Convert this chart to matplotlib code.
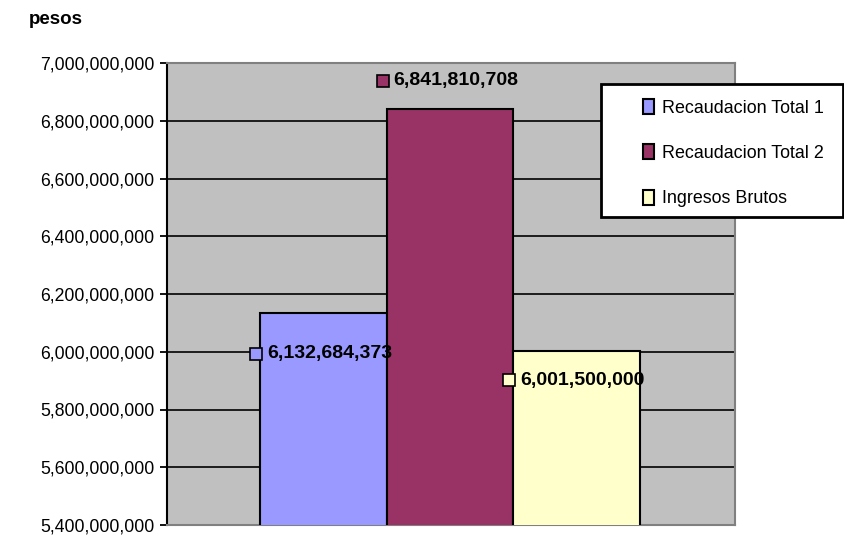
import matplotlib
matplotlib.use('Agg')
import matplotlib.pyplot as plt
from matplotlib.patches import Rectangle
from matplotlib.ticker import FuncFormatter, MultipleLocator

# Datos
series = ['Recaudacion Total 1', 'Recaudacion Total 2', 'Ingresos Brutos']
valores = [6132684373, 6841810708, 6001500000]
colores = ['#9999FF', '#993366', '#FFFFCC']
posiciones = [-1, 0, 1]

# desplazamiento vertical de cada etiqueta (puntos)
offs_etiqueta = [-29, 20, -21]

plt.rcParams['font.family'] = ['Liberation Sans', 'DejaVu Sans']

fig = plt.figure(figsize=(8.44, 5.37), dpi=100, facecolor='white')
ax = fig.add_axes([167 / 844, 12 / 537, 568 / 844, 462 / 537])
ax.set_facecolor('#C0C0C0')

# Barras
for x, v, c, s in zip(posiciones, valores, colores, series):
    ax.bar(x, v, width=1.0, color=c, edgecolor='black', linewidth=1.5,
           label=s, zorder=3)

ax.set_ylim(5.4e9, 7.0e9)
ax.set_xlim(-2.235, 2.25)
ax.yaxis.set_major_locator(MultipleLocator(2e8))
ax.yaxis.set_major_formatter(FuncFormatter(lambda v, p: f"{v:,.0f}"))
ax.grid(axis='y', color='black', linewidth=1.2, zorder=1)
ax.set_axisbelow(True)
ax.set_xticks([])
ax.tick_params(axis='y', direction='out', length=5, width=1.3,
               labelsize=12.7, pad=4, colors='black')

for lado in ['top', 'right', 'bottom']:
    ax.spines[lado].set_color('#808080')
    ax.spines[lado].set_linewidth(1.5)
ax.spines['left'].set_color('black')
ax.spines['left'].set_linewidth(1.5)

# Etiquetas de datos
for x, v, c, dy in zip(posiciones, valores, colores, offs_etiqueta):
    ax.plot([x - 0.5], [v], marker='s', markersize=8, markerfacecolor=c,
            markeredgecolor='black', markeredgewidth=1.2, zorder=5,
            transform=ax.transData + matplotlib.transforms.ScaledTranslation(
                -3 / 72, dy / 72, fig.dpi_scale_trans),
            clip_on=False)
    ax.annotate(f"{v:,.0f}", xy=(x - 0.5, v), xytext=(5, dy),
                textcoords='offset points', ha='left', va='center',
                fontsize=14, fontweight='bold', color='black', zorder=6)

# Titulo del eje
fig.text(29 / 844, 1 - 20 / 537, 'pesos', fontsize=13.5, fontweight='bold',
         ha='left', va='center')

# Leyenda
caja = Rectangle((601 / 844, 1 - 217 / 537), 242 / 844, 133 / 537,
                 transform=fig.transFigure, facecolor='white',
                 edgecolor='black', linewidth=2, zorder=10)
fig.patches.append(caja)
leg = fig.legend(loc='upper left', bbox_to_anchor=(643 / 844, 1 - 99 / 537),
                 frameon=False, fontsize=12.9, handlelength=0.6,
                 handleheight=0.9, handletextpad=0.45, labelspacing=1.55,
                 borderaxespad=0, borderpad=0)
leg.set_zorder(11)
for h in leg.legend_handles:
    h.set_edgecolor('black')
    h.set_linewidth(1.5)

fig.savefig('out.png', dpi=100, facecolor='white')
